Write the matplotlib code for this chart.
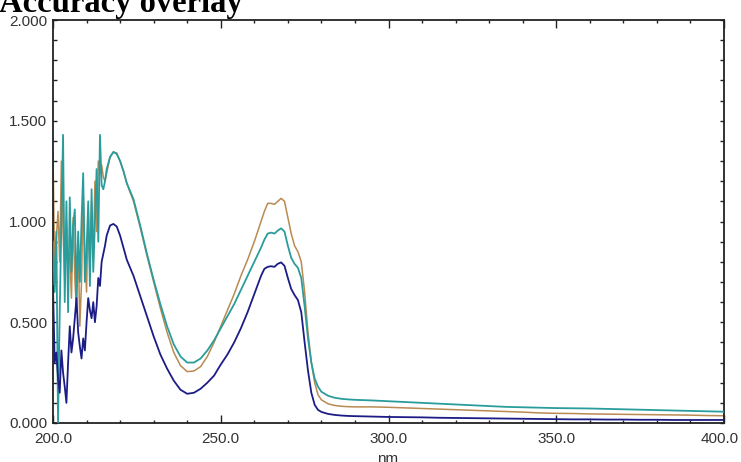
import matplotlib
matplotlib.use("Agg")
import matplotlib.pyplot as plt
import matplotlib.transforms as mtransforms
from matplotlib.ticker import MultipleLocator, FormatStrFormatter

# Wavelengths (nm)
wavelength = [
    200.0, 200.5, 201.0, 201.5, 202.0, 202.5, 203.0, 203.5, 204.0, 204.5, 205.0,
    205.5, 206.0, 206.5, 207.0, 207.5, 208.0, 208.5, 209.0, 209.5, 210.0, 210.5,
    211.0, 211.5, 212.0, 212.5, 213.0, 213.5, 214.0, 214.5, 215.0, 215.5, 216.0,
    217, 218, 219, 220, 221, 222,
    224, 226, 228, 230, 232, 234, 236, 238, 240, 242, 244, 246, 248, 250, 252,
    254, 256, 258, 260, 262,
    263, 264, 265, 266, 267, 268, 269, 270, 271, 272, 273, 274, 275, 276, 277,
    278, 279, 280,
    282, 284, 286, 288, 290,
    295, 300, 305, 310, 315, 320, 325, 330, 335, 340, 345, 350, 355, 360, 365,
    370, 375, 380, 385, 390, 395, 400,
]

absorb_orange = [
    1.34, 0.75, 0.92, 1.05, 0.80, 1.30, 0.95, 0.70, 1.00, 0.78, 0.85,
    0.62, 1.02, 0.72, 0.55, 0.90, 0.48, 0.70, 1.15, 0.85, 0.65, 1.05,
    0.75, 1.10, 0.80, 1.20, 0.95, 1.30, 1.25, 1.28, 1.22, 1.20, 1.24,
    1.32, 1.345, 1.34, 1.30, 1.25, 1.19,
    1.10, 0.97, 0.83, 0.70, 0.57, 0.45, 0.35, 0.285, 0.255, 0.258, 0.28, 0.33,
    0.40, 0.48, 0.56, 0.64, 0.73, 0.81, 0.90, 1.00,
    1.05, 1.09, 1.09, 1.085, 1.10, 1.115, 1.10, 1.02, 0.94, 0.88, 0.85, 0.80,
    0.65, 0.45, 0.30, 0.20, 0.14, 0.115,
    0.095, 0.087, 0.083, 0.081, 0.080,
    0.080, 0.078, 0.075, 0.072, 0.069, 0.066, 0.063, 0.060, 0.057, 0.054, 0.050,
    0.048, 0.047, 0.045, 0.044, 0.043, 0.042, 0.041, 0.040, 0.039, 0.037, 0.036,
]

absorb_teal = [
    0.90, 0.65, 0.95, 0.00, 0.55, 1.00, 1.43, 0.60, 1.10, 0.55, 1.12,
    0.75, 0.98, 1.06, 0.62, 0.95, 0.70, 1.00, 1.24, 0.70, 0.85, 1.10,
    0.68, 1.16, 0.75, 1.00, 1.26, 0.90, 1.43, 1.18, 1.16, 1.20, 1.26,
    1.32, 1.345, 1.335, 1.30, 1.25, 1.19,
    1.11, 0.98, 0.84, 0.71, 0.59, 0.48, 0.39, 0.33, 0.30, 0.30, 0.32, 0.36,
    0.41, 0.47, 0.53, 0.59, 0.66, 0.73, 0.80, 0.87,
    0.91, 0.94, 0.945, 0.94, 0.955, 0.966, 0.95, 0.88, 0.82, 0.79, 0.77, 0.72,
    0.58, 0.42, 0.30, 0.22, 0.18, 0.155,
    0.135, 0.125, 0.120, 0.117, 0.115,
    0.112, 0.108, 0.104, 0.100, 0.096, 0.092, 0.088, 0.084, 0.080, 0.078, 0.076,
    0.074, 0.073, 0.072, 0.070, 0.068, 0.066, 0.064, 0.062, 0.060, 0.058, 0.056,
]

absorb_blue = [
    0.68, 0.30, 0.35, 0.22, 0.15, 0.36, 0.25, 0.18, 0.10, 0.30, 0.48,
    0.35, 0.42, 0.52, 0.62, 0.45, 0.38, 0.32, 0.42, 0.36, 0.50, 0.62,
    0.56, 0.52, 0.60, 0.50, 0.58, 0.72, 0.68, 0.80, 0.84, 0.88, 0.93,
    0.98, 0.988, 0.975, 0.93, 0.87, 0.81,
    0.73, 0.63, 0.53, 0.43, 0.34, 0.27, 0.21, 0.165, 0.145, 0.15, 0.17, 0.20,
    0.235, 0.29, 0.34, 0.40, 0.47, 0.55, 0.64, 0.73,
    0.765, 0.775, 0.778, 0.775, 0.79, 0.797, 0.78, 0.72, 0.665, 0.635, 0.61, 0.55,
    0.40, 0.26, 0.15, 0.09, 0.065, 0.055,
    0.045, 0.040, 0.037, 0.035, 0.034,
    0.032, 0.030, 0.029, 0.028, 0.026, 0.025, 0.024, 0.023, 0.022, 0.021, 0.020,
    0.019, 0.018, 0.018, 0.017, 0.017, 0.016, 0.016, 0.015, 0.015, 0.015, 0.015,
]

x_tick_values = [200, 250, 300, 350, 400]
x_tick_labels = ["200.0", "250.0", "300.0", "350.0", "400.0"]

title_text = "Accuracy overlay"
x_label = "nm"

W, H = 741, 462
fig = plt.figure(figsize=(W / 100, H / 100), dpi=100)
fig.patch.set_facecolor("white")
ax = fig.add_axes([53 / W, 1 - 423 / H, (724 - 53) / W, (423 - 20) / H])

ax.plot(wavelength, absorb_orange, color="#b98a52", lw=1.1, zorder=2)
ax.plot(wavelength, absorb_teal, color="#2a9c9c", lw=1.3, zorder=3)
ax.plot(wavelength, absorb_blue, color="#1c1c86", lw=1.3, zorder=4)

ax.set_xlim(200, 400)
ax.set_ylim(0, 2.0)

ax.set_xticks(x_tick_values)
ax.xaxis.set_minor_locator(MultipleLocator(10))
ax.yaxis.set_major_locator(MultipleLocator(0.5))
ax.yaxis.set_minor_locator(MultipleLocator(0.1))
ax.yaxis.set_major_formatter(FormatStrFormatter("%.3f"))

ax.tick_params(axis="both", which="both", direction="in", top=True, right=True,
               color="#222222", width=1.0, labelcolor="#333333",
               labelsize=11)
ax.tick_params(axis="x", which="both", labelbottom=False)
ax.tick_params(axis="x", which="major", length=5.5)
ax.tick_params(axis="x", which="minor", length=2.5)
ax.tick_params(axis="y", which="major", length=3, pad=4)
ax.tick_params(axis="y", which="minor", length=3)
for lab in ax.get_yticklabels():
    lab.set_family("Liberation Sans")

# x tick labels drawn as text, the last one nudged left to stay inside
trans = ax.get_xaxis_transform()
for i, (xv, txt) in enumerate(zip(x_tick_values, x_tick_labels)):
    dx = -4 / 100 if i == len(x_tick_values) - 1 else 0
    off = mtransforms.ScaledTranslation(dx, -9 / 100, fig.dpi_scale_trans)
    ax.text(xv, 0, txt, transform=trans + off, ha="center", va="top",
            fontsize=11, family="Liberation Sans", color="#333333",
            clip_on=False)

for sp in ax.spines.values():
    sp.set_color("#222222")
    sp.set_linewidth(1.3)

fig.text(-0.002, 1 - 12 / H, title_text, fontsize=23.5, fontweight="bold",
         family="Liberation Serif", ha="left", va="baseline", color="black")
fig.text(388 / W, 1 - 452 / H, x_label, fontsize=11, family="Liberation Sans",
         ha="center", va="top", color="#333333")

fig.savefig("out.png", dpi=100, facecolor="white")
